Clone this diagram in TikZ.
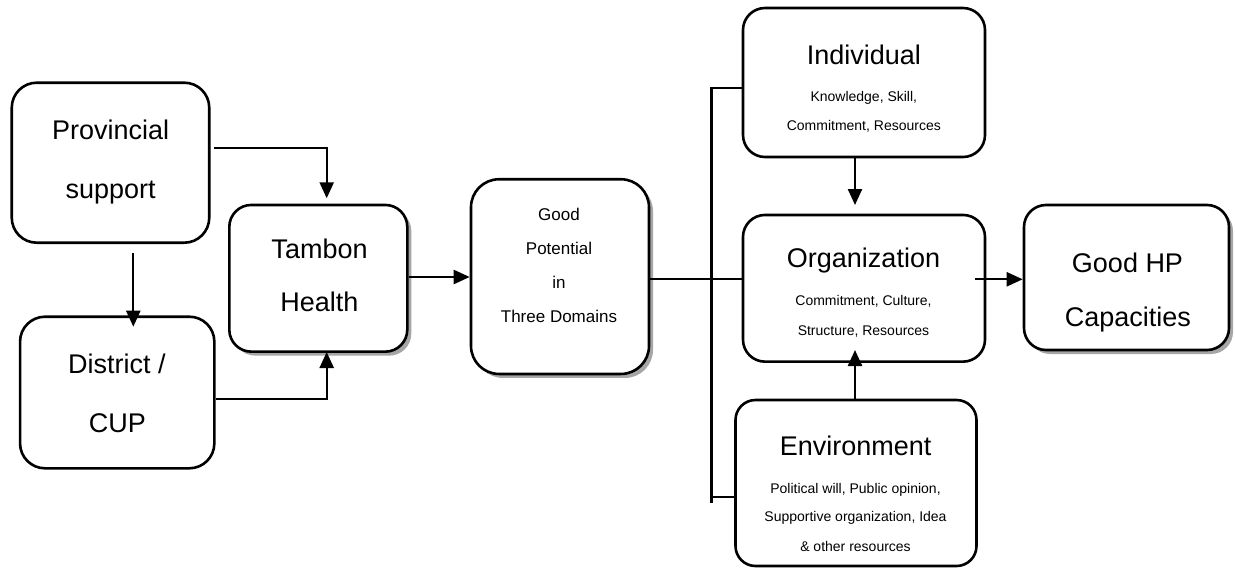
\documentclass[tikz,border=0pt]{standalone}
\usepackage{fontspec}
\setmainfont{Liberation Sans}
\usetikzlibrary{arrows.meta,shadows}
\tikzset{
  box/.style={draw=black, line width=2.6pt, fill=white, rounded corners=22pt, inner sep=0pt, minimum width=#1},
  box/.default=100pt,
  shbox/.style={box=#1, drop shadow={shadow xshift=4pt, shadow yshift=-4pt, fill=gray!70, opacity=1}},
  shbox/.default=100pt,
  big/.style={anchor=base, inner sep=0pt, font=\fontsize{27}{30}\selectfont},
  mid/.style={anchor=base, inner sep=0pt, font=\fontsize{17}{20}\selectfont},
  small/.style={anchor=base, inner sep=0pt, font=\fontsize{14}{16}\selectfont},
  conn/.style={line width=2.3pt, draw=black},
  arr/.style={conn, -{Triangle[length=16pt,width=14pt]}}
}
\begin{document}
\begin{tikzpicture}[x=1pt,y=-1pt]
\useasboundingbox[fill=white] (0,0) rectangle (1235,568);

% boxes
\node[box=197.5pt, minimum height=160pt, rounded corners=25pt] (prov) at (110.5,162.7) {};
\node[box=194.3pt, minimum height=151.6pt, rounded corners=25pt] (dist) at (117.2,392.5) {};
\node[shbox=178pt, minimum height=146.7pt] (tamb) at (318.3,278.3) {};
\node[shbox=178pt, minimum height=194.7pt, rounded corners=28pt] (gp) at (560,276.6) {};
\node[box=242pt, minimum height=149pt] (ind) at (864,82.5) {};
\node[box=242pt, minimum height=146.7pt] (org) at (864,288.3) {};
\node[box=241pt, minimum height=166pt, rounded corners=20pt] (env) at (856,483) {};
\node[shbox=205pt, minimum height=145pt] (hp) at (1126.5,277.5) {};

% texts
\node[big] (t1) at (110.7,139.3) {Provincial};
\node[big] (t2) at (110.7,198.3) {support};
\node[big] (t3) at (116.8,373.3) {District /};
\node[big] (t4) at (117.5,432.3) {CUP};
\node[big] (t5) at (319.5,258.3) {Tambon};
\node[big] (t6) at (319.5,311.7) {Health};
\node[mid] (t7) at (559,220.7) {Good};
\node[mid] (t8) at (559,254.3) {Potential};
\node[mid] (t9) at (559,288.3) {in};
\node[mid] (t10) at (559,322) {Three Domains};
\node[big] (t11) at (863.8,64) {Individual};
\node[small] (t12) at (863.8,101.7) {Knowledge, Skill,};
\node[small] (t13) at (863.8,130.7) {Commitment, Resources};
\node[big] (t14) at (863.5,267.3) {Organization};
\node[small] (t15) at (863.5,305) {Commitment, Culture,};
\node[small] (t16) at (863.5,335) {Structure, Resources};
\node[big] (t17) at (855.7,455) {Environment};
\node[small] (t18) at (855.5,493.3) {Political will, Public opinion,};
\node[small] (t19) at (855.5,521.7) {Supportive organization, Idea};
\node[small] (t20) at (855.5,551.7) {\& other resources};
\node[big] (t21) at (1127.5,272.7) {Good HP};
\node[big] (t22) at (1127.8,326.7) {Capacities};

% connector points
\coordinate (p1) at (214,148.3);
\coordinate (p1t) at (326.7,198.3);
\coordinate (p2) at (133.3,252.7);
\coordinate (p2t) at (133.3,326.7);
\coordinate (p3t) at (326.7,352);
\coordinate (bartop) at (711.5,86.7);
\coordinate (barbot) at (711.5,502.7);
\coordinate (b1) at (711.5,88.3);
\coordinate (b3) at (711.5,497.3);
\coordinate (o1) at (975,279.3);

% connectors
\draw[arr] (p1) -| (p1t);
\draw[arr] (p2) -- (p2t);
\draw[arr] (dist.east |- 0,399.3) -| (p3t);
\draw[arr] (tamb.east |- 0,277) -- (gp.west |- 0,277);
\draw[conn] (gp.east |- 0,279.3) -- (org.west |- 0,279.3);
\draw[conn] (bartop) -- (barbot);
\draw[conn] (b1) -- (ind.west |- b1);
\draw[conn] (b3) -- (env.west |- b3);
\draw[arr] (ind.south -| 855,0) -- (855,205);
\draw[arr] (env.north -| 855,0) -- (855,350);
\draw[arr] (o1) -- (hp.west |- o1);
\end{tikzpicture}
\end{document}
